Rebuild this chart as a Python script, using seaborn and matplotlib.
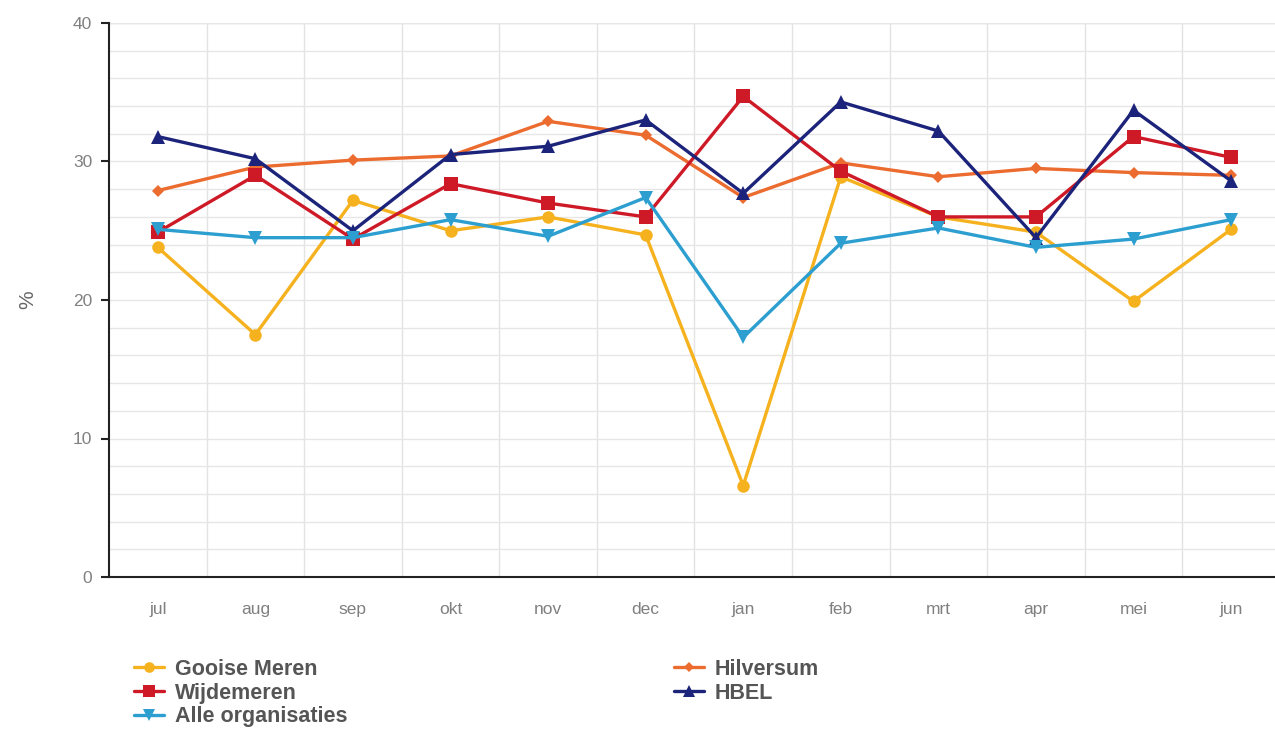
import matplotlib
matplotlib.use("Agg")
import matplotlib.pyplot as plt
import seaborn as sns
import pandas as pd
from matplotlib.lines import Line2D

months = ["jul", "aug", "sep", "okt", "nov", "dec", "jan", "feb", "mrt", "apr", "mei", "jun"]
gooise_meren = [23.8, 17.5, 27.2, 25.0, 26.0, 24.7, 6.6, 28.9, 26.0, 24.9, 19.9, 25.1]
hilversum = [27.9, 29.6, 30.1, 30.4, 32.9, 31.9, 27.4, 29.9, 28.9, 29.5, 29.2, 29.0]
wijdemeren = [24.9, 29.0, 24.4, 28.4, 27.0, 26.0, 34.7, 29.3, 26.0, 26.0, 31.8, 30.3]
hbel = [31.8, 30.2, 25.0, 30.5, 31.1, 33.0, 27.7, 34.3, 32.2, 24.5, 33.7, 28.6]
alle_organisaties = [25.1, 24.5, 24.5, 25.8, 24.6, 27.4, 17.3, 24.1, 25.2, 23.8, 24.4, 25.8]

series = [
    ("Gooise Meren", gooise_meren, "#F5B21E", "o", 9),
    ("Hilversum", hilversum, "#EC6B2F", "D", 6.5),
    ("Wijdemeren", wijdemeren, "#CE1A27", "s", 9.5),
    ("HBEL", hbel, "#1C237A", "^", 9.5),
    ("Alle organisaties", alle_organisaties, "#2C9FD0", "v", 9.5),
]

sns.set_theme(style="white")
plt.rcParams['font.family'] = ['Liberation Sans', 'DejaVu Sans']

fig = plt.figure(figsize=(12.75, 7.38), dpi=100)
ax = fig.add_axes([109/1275, 1 - 577/738, 1 - 109/1275, (577 - 23)/738])

handles = {}
for name, vals, color, marker, ms in series:
    df = pd.DataFrame({"maand": months, "waarde": vals})
    sns.lineplot(data=df, x="maand", y="waarde", ax=ax, sort=False, color=color,
                 marker=marker, markersize=ms, markeredgewidth=0, linewidth=2.4,
                 label=name, zorder=3)
    handles[name] = Line2D([], [], color=color, marker=marker, markersize=ms * 0.85,
                           markeredgewidth=0, linewidth=2.4)

ax.set_xlim(-0.5, 11.45)
ax.set_ylim(0, 40)
ax.set_yticks([0, 10, 20, 30, 40])
ax.set_yticks([2, 4, 6, 8, 12, 14, 16, 18, 22, 24, 26, 28, 32, 34, 36, 38], minor=True)
ax.set_xticks(range(len(months)))
ax.set_xticklabels(months)
ax.set_xticks([i + 0.5 for i in range(len(months) - 1)], minor=True)

ax.grid(False)
ax.grid(True, which="both", axis="y", color="#e6e6e6", linewidth=1, zorder=0)
ax.grid(True, which="minor", axis="x", color="#e3e3e3", linewidth=1, zorder=0)
ax.axhline(40, color="#e0e0e0", linewidth=1, zorder=0)

for s in ["top", "right"]:
    ax.spines[s].set_visible(False)
ax.spines["left"].set_color("#222222")
ax.spines["bottom"].set_color("#222222")
ax.spines["left"].set_linewidth(1.5)
ax.spines["bottom"].set_linewidth(1.5)

ax.tick_params(axis="y", which="major", left=True, length=6, width=1.5, color="#222222",
               labelsize=12.5, labelcolor="#808080", pad=6)
ax.tick_params(axis="y", which="minor", left=False)
ax.tick_params(axis="x", which="both", bottom=False, labelsize=12.5, labelcolor="#808080", pad=12)

ax.set_xlabel("")
ax.set_ylabel("%", fontsize=15, color="#666666", labelpad=26)

legend_kw = dict(loc="upper left", bbox_transform=fig.transFigure, frameon=False,
                 prop={"weight": "bold", "size": 15.5}, labelcolor="#555555",
                 handlelength=1.4, handletextpad=0.5, labelspacing=0.12,
                 borderaxespad=0, borderpad=0)
col1 = ["Gooise Meren", "Wijdemeren", "Alle organisaties"]
col2 = ["Hilversum", "HBEL"]
leg1 = ax.legend([handles[n] for n in col1], col1,
                 bbox_to_anchor=(134/1275, 1 - 659/738), **legend_kw)
ax.add_artist(leg1)
ax.legend([handles[n] for n in col2], col2,
          bbox_to_anchor=(674/1275, 1 - 659/738), **legend_kw)

fig.savefig("out.png", dpi=100)
